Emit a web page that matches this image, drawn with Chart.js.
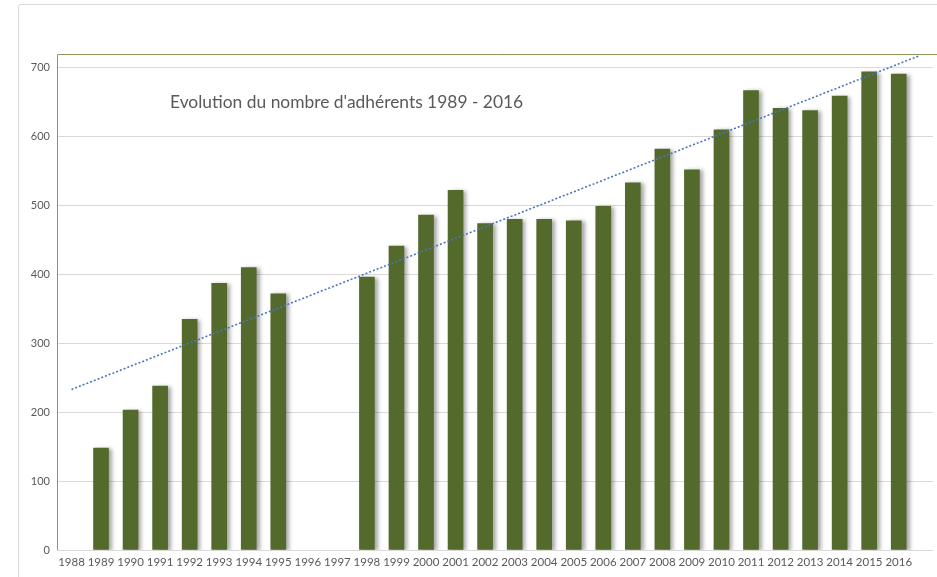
<!DOCTYPE html>
<html>
<head>
<meta charset="utf-8">
<script src="https://cdn.jsdelivr.net/npm/chart.js@4/dist/chart.umd.min.js"></script>
<style>
  html, body { margin: 0; padding: 0; background: #ffffff; }
  #wrap { position: relative; width: 937px; height: 577px; overflow: hidden; }
  #frame { position: absolute; left: 18px; top: 4px; width: 930px; height: 600px; border: 1px solid #d9d9d9; border-radius: 3px; }
  #c { position: absolute; left: 0; top: 0; }
</style>
</head>
<body>
<div id="wrap">
  <div id="frame"></div>
  <canvas id="c" width="937" height="577"></canvas>
</div>
<script>
// ---- data ----
const chartTitle = "Evolution du nombre d'adhérents 1989 - 2016";
const years = [1988,1989,1990,1991,1992,1993,1994,1995,1996,1997,1998,1999,2000,2001,2002,2003,2004,2005,2006,2007,2008,2009,2010,2011,2012,2013,2014,2015,2016];
const members = [null,148,203,238,335,387,410,372,null,null,396,441,486,522,474,480,480,478,499,533,582,552,610,667,641,638,659,694,691];
const trendYears = [1988, 2016.67];
const trendValues = [233, 717];
const yTicks = [0,100,200,300,400,500,600,700];

const barData = years.map((yr, i) => ({ x: yr, y: members[i] }));
const trendData = trendYears.map((yr, i) => ({ x: yr, y: trendValues[i] }));

const FONT = "Lato, 'Open Sans', sans-serif";

const decor = {
  id: 'decor',
  beforeDatasetDraw(chart, args) {
    if (args.index === 0) {
      const ctx = chart.ctx;
      ctx.save();
      ctx.shadowColor = 'rgba(0,0,0,0.35)';
      ctx.shadowOffsetX = 3;
      ctx.shadowOffsetY = 1;
      ctx.shadowBlur = 4;
    }
  },
  afterDatasetDraw(chart, args) {
    if (args.index === 0) chart.ctx.restore();
  },
  beforeDatasetsDraw(chart) {
    const ctx = chart.ctx, a = chart.chartArea;
    ctx.save();
    ctx.strokeStyle = '#8a9a5b';
    ctx.lineWidth = 1;
    ctx.beginPath();
    ctx.moveTo(a.left + 0.5, a.bottom);
    ctx.lineTo(a.left + 0.5, a.top + 0.5);
    ctx.lineTo(chart.width, a.top + 0.5);
    ctx.stroke();
    ctx.restore();
  },
  afterDraw(chart) {
    const ctx = chart.ctx;
    ctx.save();
    ctx.fillStyle = '#595959';
    ctx.font = '17.4px ' + FONT;
    ctx.textBaseline = 'middle';
    ctx.textAlign = 'left';
    ctx.fillText(chartTitle, 170, 102);
    ctx.restore();
  }
};

new Chart(document.getElementById('c'), {
  type: 'bar',
  data: {
    datasets: [
      {
        type: 'bar',
        data: barData,
        backgroundColor: '#536a2c',
        barThickness: 15,
        order: 2
      },
      {
        type: 'line',
        data: trendData,
        borderColor: '#4a74c0',
        borderWidth: 1.6,
        borderDash: [2, 2],
        pointRadius: 0,
        fill: false,
        order: 1
      }
    ]
  },
  options: {
    responsive: false,
    animation: false,
    events: [],
    layout: { padding: { left: 0, right: 4, top: 54, bottom: 0 } },
    plugins: { legend: { display: false }, tooltip: { enabled: false }, title: { display: false } },
    scales: {
      x: {
        type: 'linear',
        offset: false,
        min: 1987.51,
        max: 2017.16,
        afterBuildTicks(scale) { scale.ticks = years.map(v => ({ value: v })); },
        afterFit(scale) { scale.height = 27; },
        grid: { display: false, drawTicks: false, offset: false },
        border: { display: false },
        ticks: {
          color: '#595959',
          font: { family: FONT, size: 11.5 },
          padding: 5,
          maxRotation: 0,
          autoSkip: false,
          callback: v => String(v)
        }
      },
      y: {
        min: 0,
        max: 720,
        afterBuildTicks(scale) { scale.ticks = yTicks.map(v => ({ value: v })); },
        afterFit(scale) { scale.width = 57; },
        grid: { color: '#d9d9d9', drawTicks: false, lineWidth: 1 },
        border: { display: false },
        ticks: {
          color: '#595959',
          font: { family: FONT, size: 11 },
          padding: 7,
          callback: v => String(v)
        }
      }
    }
  },
  plugins: [decor]
});
</script>
</body>
</html>
